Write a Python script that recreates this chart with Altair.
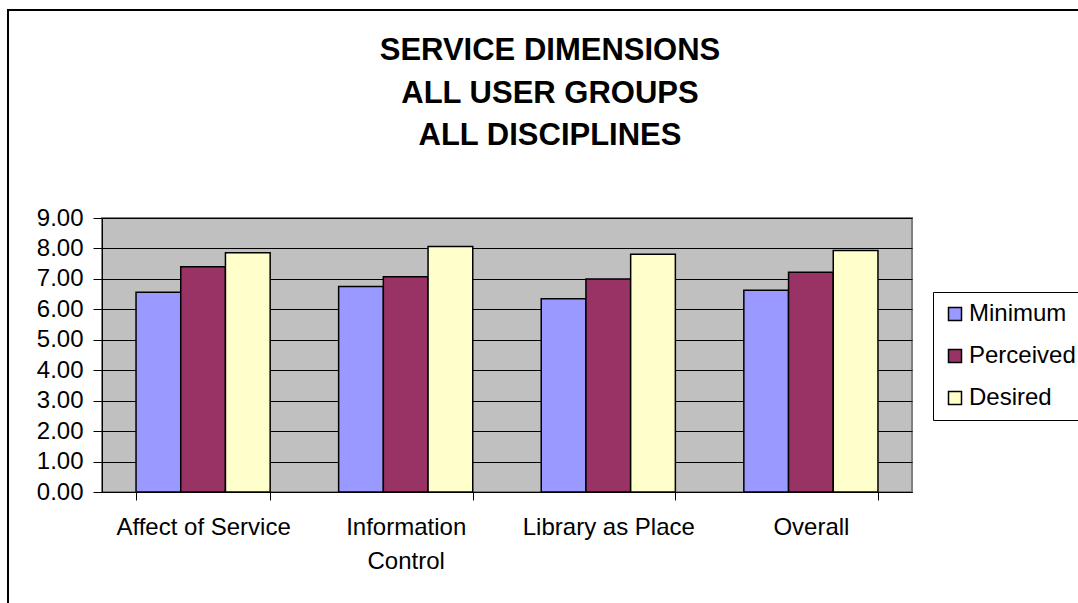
import altair as alt
import pandas as pd

categories = ["Affect of Service", "Information Control", "Library as Place", "Overall"]
series = ["Minimum", "Perceived", "Desired"]
minimum = [6.56, 6.75, 6.35, 6.63]
perceived = [7.40, 7.07, 7.00, 7.22]
desired = [7.86, 8.06, 7.81, 7.93]
colors = ["#9999FF", "#993366", "#FFFFCC"]
y_ticks = [0, 1, 2, 3, 4, 5, 6, 7, 8, 9]
title_lines = ["SERVICE DIMENSIONS", "ALL USER GROUPS", "ALL DISCIPLINES"]

rows = []
for i, c in enumerate(categories):
    for s, vals in zip(series, [minimum, perceived, desired]):
        rows.append({"category": c, "series": s, "value": vals[i]})
df = pd.DataFrame(rows)

FONT = "Liberation Sans"

bars = alt.Chart(df).mark_bar(stroke="black", strokeWidth=1.5).encode(
    x=alt.X("category:N", sort=categories,
            scale=alt.Scale(paddingInner=0.338, paddingOuter=0.168),
            axis=alt.Axis(title=None, labelAngle=0, tickBand="extent", tickSize=8,
                          tickColor="black", domainColor="black", labelPadding=15,
                          labelFontSize=24, labelFont=FONT, labelColor="black",
                          labelLineHeight=34, labelBaseline="top",
                          labelExpr="datum.label == 'Information Control' ? ['Information', 'Control'] : datum.label")),
    xOffset=alt.XOffset("series:N", sort=series),
    y=alt.Y("value:Q", scale=alt.Scale(domain=[0, 9], nice=False),
            axis=alt.Axis(title=None, values=y_ticks, format=".2f", tickSize=9,
                          tickColor="black", domainColor="black", grid=True,
                          gridColor="black", gridOpacity=1, labelFontSize=24,
                          labelFont=FONT, labelColor="black", labelPadding=10)),
    color=alt.Color("series:N", sort=series,
                    scale=alt.Scale(domain=series, range=colors),
                    legend=alt.Legend(title=None, orient="none", legendX=831, legendY=74,
                                      symbolType="square", symbolSize=169,
                                      symbolStrokeColor="black", symbolStrokeWidth=1.5,
                                      labelFontSize=24, labelFont=FONT, labelColor="black",
                                      rowPadding=18, padding=10, strokeColor="black",
                                      fillColor="white", labelOffset=2)),
)

frame_df = pd.DataFrame({"k": [0]})
frame = alt.Chart(frame_df).mark_rect(fill=None, stroke="black", strokeWidth=2).encode(
    x=alt.value(-94), x2=alt.value(1100), y=alt.value(-208), y2=alt.value(500)
)

title_df = pd.DataFrame({"t": ["\n".join(title_lines)]})
title = alt.Chart(title_df).mark_text(
    font=FONT, fontSize=31, fontWeight="bold", color="black", lineBreak="\n",
    lineHeight=42.5, align="center", baseline="alphabetic"
).encode(text="t:N", x=alt.value(448), y=alt.value(-158))

chart = alt.layer(frame, title, bars).properties(
    width=810, height=274,
    padding={"left": 102, "top": 218, "right": 166, "bottom": 111},
    autosize=alt.AutoSizeParams(type="none"),
    background="white",
).configure_view(fill="#C0C0C0", stroke="#808080", strokeWidth=2)

chart.save("out.html", embed_options={"renderer": "svg", "actions": False})
